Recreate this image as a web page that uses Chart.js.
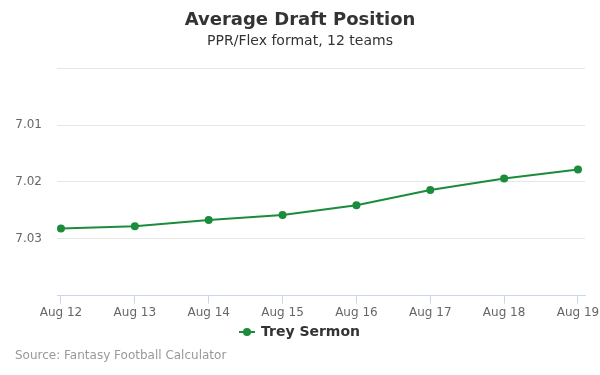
<!DOCTYPE html>
<html>
<head>
<meta charset="utf-8">
<script src="https://cdn.jsdelivr.net/npm/chart.js@4/dist/chart.umd.min.js"></script>
<style>
  html, body { margin: 0; padding: 0; background: #fff; }
  #wrap { width: 600px; height: 375px; position: relative; }
</style>
</head>
<body>
<div id="wrap"><canvas id="myChart" width="600" height="375"></canvas></div>
<script>
var dateLabels = ["Aug 12", "Aug 13", "Aug 14", "Aug 15", "Aug 16", "Aug 17", "Aug 18", "Aug 19"];
var adpValues = [7.0282, 7.0278, 7.0267, 7.0258, 7.0241, 7.0214, 7.0194, 7.0178];
var yTicks = [7.00, 7.01, 7.02, 7.03, 7.04];
var shownTicks = ["7.01", "7.02", "7.03"];

var green = "#1b8c3c";
var font = "'DejaVu Sans', sans-serif";

// legend marker: short line with a dot, like the original
var marker = document.createElement("canvas");
marker.width = 16; marker.height = 10;
var mctx = marker.getContext("2d");
mctx.strokeStyle = green; mctx.lineWidth = 2;
mctx.beginPath(); mctx.moveTo(0, 5); mctx.lineTo(16, 5); mctx.stroke();
mctx.fillStyle = green;
mctx.beginPath(); mctx.arc(8, 5, 4, 0, Math.PI * 2); mctx.fill();

var creditPlugin = {
  id: "credit",
  afterDraw: function(chart) {
    var c = chart.ctx;
    c.save();
    c.font = "12px " + font;
    c.fillStyle = "#999999";
    c.textBaseline = "middle";
    c.textAlign = "left";
    c.fillText("Source: Fantasy Football Calculator", 15, 356);
    c.restore();
  }
};

var points = adpValues.map(function(v, i) { return { x: i, y: v }; });

var ctx = document.getElementById("myChart").getContext("2d");
var chart = new Chart(ctx, {
  type: "line",
  data: {
    datasets: [{
      label: "Trey Sermon",
      data: points,
      borderColor: green,
      backgroundColor: green,
      borderWidth: 2,
      pointRadius: 4,
      pointHoverRadius: 5,
      pointBackgroundColor: green,
      pointBorderWidth: 0,
      tension: 0
    }]
  },
  options: {
    responsive: false,
    animation: false,
    layout: { padding: { left: 15, right: 15, top: 0, bottom: 26 } },
    plugins: {
      title: {
        display: true,
        text: "Average Draft Position",
        color: "#333333",
        font: { family: font, size: 18, weight: "bold" },
        padding: { top: 10, bottom: 1 }
      },
      subtitle: {
        display: true,
        text: "PPR/Flex format, 12 teams",
        color: "#333333",
        font: { family: font, size: 14 },
        padding: { top: 0, bottom: 19 }
      },
      legend: {
        position: "bottom",
        labels: {
          usePointStyle: true,
          pointStyle: marker,
          color: "#333333",
          font: { family: font, size: 14, weight: "bold" },
          padding: 3
        }
      },
      tooltip: { enabled: false }
    },
    scales: {
      x: {
        type: "linear",
        min: -0.054,
        max: 7.095,
        afterBuildTicks: function(scale) {
          scale.ticks = dateLabels.map(function(l, i) { return { value: i }; });
        },
        afterFit: function(scale) { scale.paddingLeft = 0; scale.paddingRight = 0; },
        ticks: {
          autoSkip: false,
          maxRotation: 0,
          color: "#666666",
          font: { family: font, size: 12 },
          padding: 2,
          callback: function(v) { return dateLabels[v]; }
        },
        grid: {
          drawOnChartArea: false,
          drawTicks: true,
          tickLength: 8,
          color: "#ccd6eb"
        },
        border: { display: true, color: "#ccd6eb", width: 1 }
      },
      y: {
        reverse: true,
        min: 7.00,
        max: 7.04,
        afterBuildTicks: function(scale) {
          scale.ticks = yTicks.map(function(v) { return { value: v }; });
        },
        afterFit: function(scale) { scale.width = 42; },
        ticks: {
          color: "#666666",
          font: { family: font, size: 12 },
          padding: 15,
          callback: function(v) {
            var s = v.toFixed(2);
            return shownTicks.indexOf(s) >= 0 ? s : "";
          }
        },
        grid: { color: "#e6e6e6", drawTicks: false },
        border: { display: false }
      }
    }
  },
  plugins: [creditPlugin]
});
</script>
</body>
</html>
